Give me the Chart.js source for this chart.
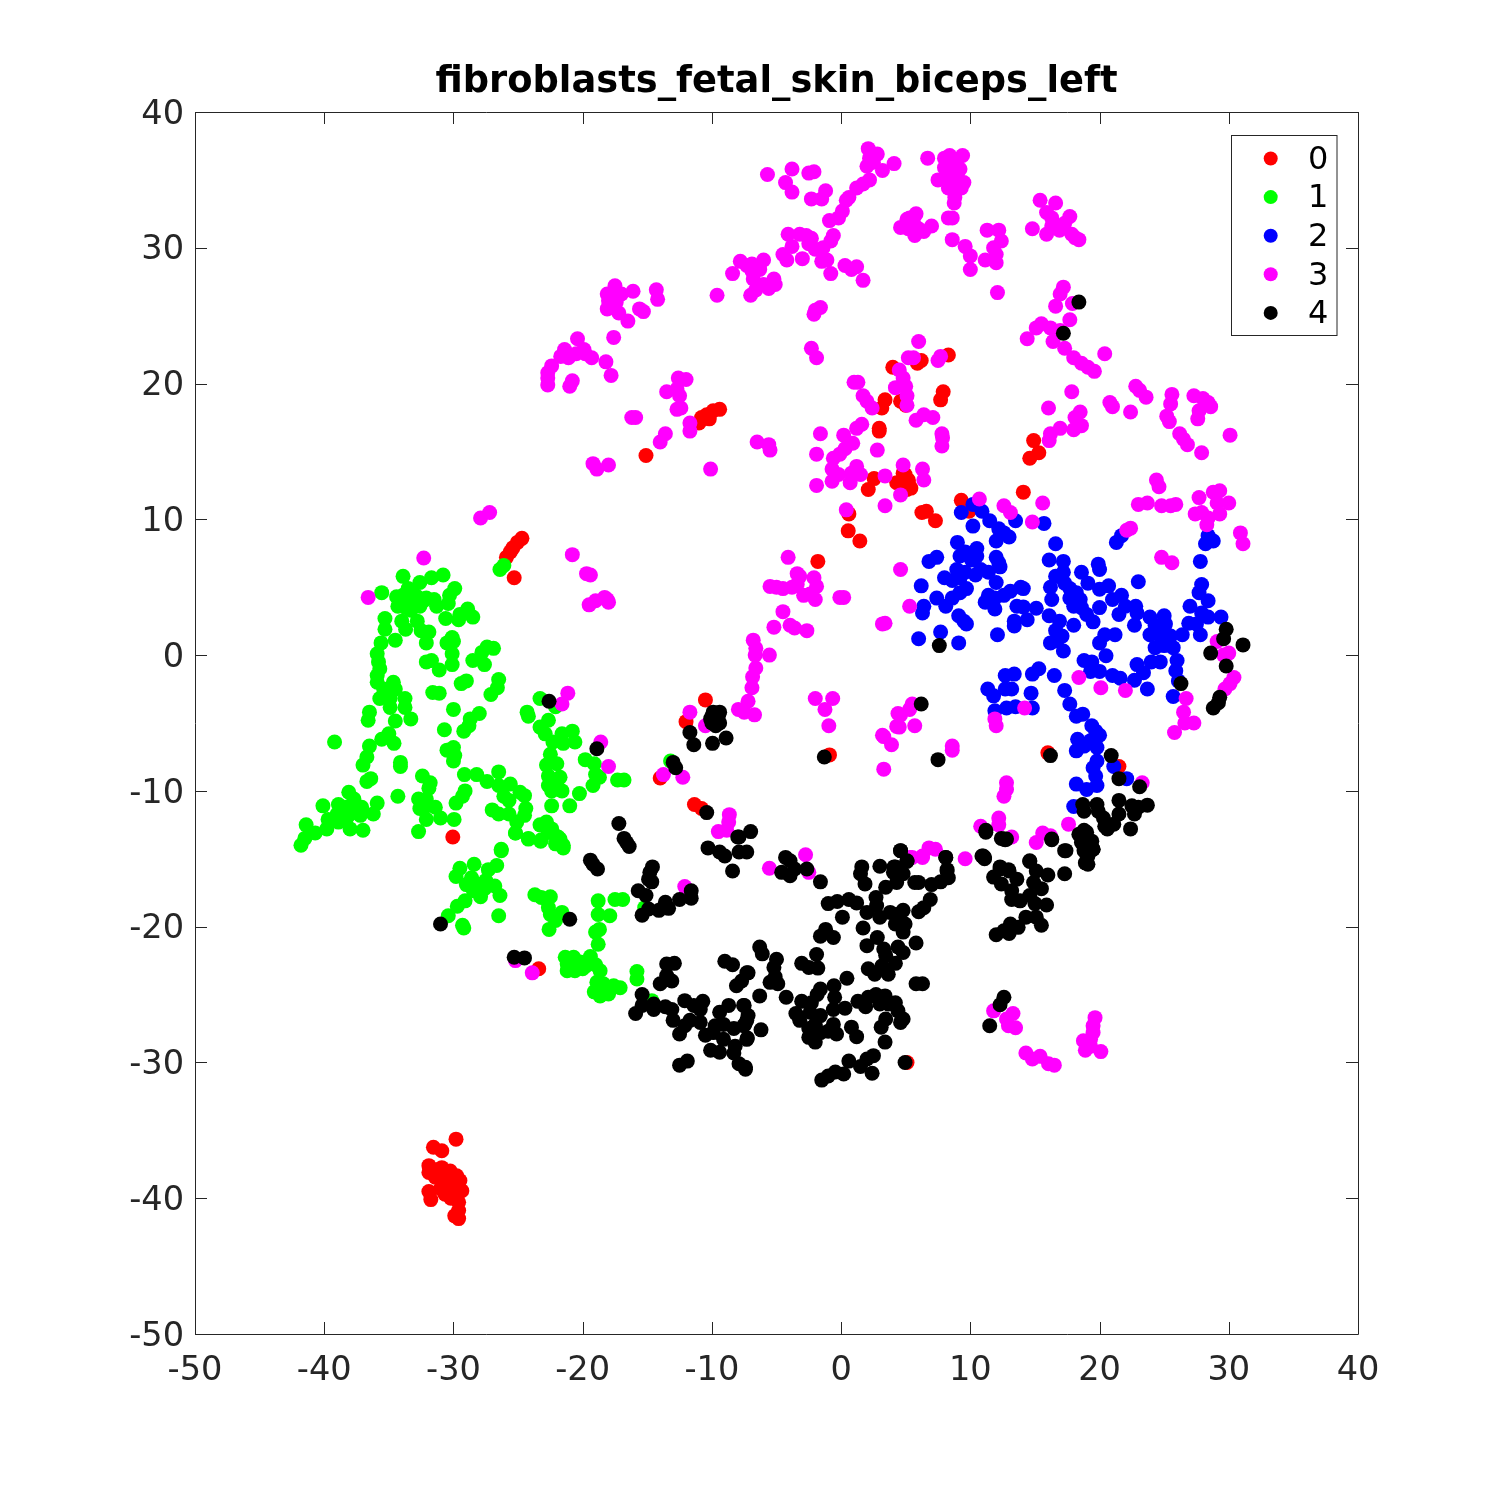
<!DOCTYPE html>
<html>
<head>
<meta charset="utf-8">
<style>body{margin:0;background:#fff}</style>
<script src="https://cdn.jsdelivr.net/npm/chart.js@4"></script>
</head>
<body>
<canvas id="grafico" width="1500" height="1500"></canvas>
<script>
const clusterNames = ['0', '1', '2', '3', '4'];
const clusterColors = ['#ff0000', '#00ff00', '#0000ff', '#ff00ff', '#000000'];
const tickValues = [-50, -40, -30, -20, -10, 0, 10, 20, 30, 40];

const cluster0 = [[-29.8,-35.65],[-31.55,-36.25],[-30.9,-36.5],[-31.9,-37.6],[-31.9,-38.1],[-30.9,-37.75],[-30.25,-38],[-29.75,-38.35],[-29.5,-38.7],[-31.4,-38.45],[-30.8,-38.6],[-30.25,-39.1],[-29.35,-39.45],[-31.9,-39.5],[-31.75,-40.1],[-30.65,-39.7],[-29.9,-39.7],[-29.6,-40.3],[-29.6,-40.9],[-29.6,-41.5],[-29.9,-41.3],[-30.5,-38.2],[-31.2,-37.9],[-30.2,-40],[-29.8,-39.2],[-31,-39.3],[-30.4,-38.6],
[-24.7,8.6],[-25.05,8.3],[-25.4,7.9],[-25.6,7.6],[-25.9,7.2],[-25.3,5.7],[-30.05,-13.4],[-15.1,14.7],[-9.4,18.1],[-9.9,18],[-10.4,17.7],[-10.8,17.5],[-10.2,17.4],[-11,17.1],
[4,21.2],[3.4,18.8],[3.15,18.2],[2.95,16.7],[2.95,16.5],[4.6,18.7],[5,18.4],[6.2,21.7],[5.9,21.5],[8.3,22.1],[7.9,19.4],[7.7,18.8],[2.1,12.2],[2.55,13],[4.3,12.7],[4.95,13.3],[5.2,12.7],[5.1,12.2],[4.8,13.4],[5.4,12.3],[5.2,12.9],
[14.9,15.8],[15.3,14.9],[14.6,14.5],[14.1,12],[9.3,11.4],[9.9,10.6],[6.6,10.6],[6.25,10.5],[7.3,9.9],[0.6,10.4],[0.55,9.15],[1.45,8.4],[-1.8,6.9],[-10.5,-3.3],[-12,-4.9],[-14,-9.05],[-11.35,-11],[-10.8,-11.3],[-0.9,-7.35],[16,-7.2],[21.5,-8.2],[-23.4,-23.1],[5.1,-30]];

const cluster1 = [[-26.4,6.3],[-26.1,6.6],[-33.9,5.8],[-30.8,5.9],[-31.7,5.7],[-32.6,5.35],[-29.9,4.9],[-35.55,4.6],[-33.5,4.9],[-33.1,4.5],[-34.1,4],[-33.6,4.1],[-33.1,4],[-33.7,3.5],[-34.3,3.6],[-32.3,4],[-31.5,4.1],[-31.3,3.6],[-30.4,3.8],[-30.3,4.4],[-32.6,3.6],[-32.1,4.2],[-33.3,3.3],[-33,3.7],[-33.9,4.4],[-34.4,4.3],[-32.8,4.3],
[-28.9,3.4],[-29.5,3],[-30.6,2.7],[-29.6,2.6],[-28.5,2.8],[-35.3,2.7],[-34,2.5],[-33.7,1.9],[-32.8,2.5],[-32.5,1.8],[-31.9,1.7],[-32.1,0.9],[-35.3,1.9],[-34.5,1.1],[-35.6,0.9],[-35.9,0.1],[-35.8,-0.5],[-35.7,-1],[-35.9,-1.5],[-35.9,-2],
[-30.1,1.3],[-30,1],[-30.5,0.9],[-30.1,0.1],[-30.1,-0.7],[-31.1,-1.1],[-31.7,-0.4],[-32.1,-0.5],[-26.9,0.5],[-27.4,0.6],[-27.8,0.2],[-28.5,-0.4],[-27.6,-0.7],[-29,-1.9],[-29.4,-2.1],[-26.5,-1.8],[-26.6,-2.4],[-27.1,-2.9],[-31.6,-2.75],[-31.1,-2.8],
[-34.65,-2],[-34.5,-2.5],[-35.4,-2.5],[-35.7,-3.2],[-34.9,-3.2],[-33.75,-3.2],[-34.9,-3.85],[-33.75,-3.85],[-36.5,-4.2],[-36.6,-4.8],[-33.3,-4.7],[-34.5,-4.85],[-30,-4],[-28,-4.3],[-28.7,-4.7],[-28.8,-5.2],[-29.2,-5.6],[-30.7,-5.5],[-39.2,-6.4],[-35,-5.8],[-35.55,-6.2],[-34.6,-6.5],[-36.5,-6.7],[-36.7,-7.5],[-37,-8.1],[-34.1,-7.9],[-34.1,-8.2],[-36.7,-9.3],[-36.4,-9.1],
[-30.5,-7],[-30,-6.8],[-29.9,-7.4],[-30,-7.8],[-29.15,-8.8],[-28.2,-8.8],[-27.4,-9.3],[-26.5,-8.6],[-26.5,-9.6],[-25.6,-9.5],[-32.4,-8.9],[-31.8,-9.4],[-31.9,-9.8],[-34.3,-10.4],[-29.1,-10],[-29.3,-10.4],[-29.8,-10.9],[-32.7,-10.6],[-32.1,-10.6],[-32.6,-11.3],[-32.1,-11.1],[-31.4,-11.2],[-32.1,-12.1],[-31,-12],[-29.95,-12.1],[-32.7,-13],
[-24.5,-10.35],[-24.85,-10.1],[-25.7,-10.7],[-26.1,-10.4],[-27,-11.4],[-26.5,-11.7],[-25.7,-11.7],[-24.4,-11.3],[-24.5,-11.8],[-25.1,-12.3],[-25.2,-13.1],[-24.2,-13.5],[-23.2,-13.6],[-23.3,-12.5],[-22.8,-12.3],[-21.9,-13.4],[-22.4,-12.8],[-21.5,-14],[-22.1,-13.9],[-26.3,-14.3],[-24.3,-4.2],[-24.2,-4.5],[-23.3,-3.2],[-22.1,-3.8],
[-22.65,-4.8],[-23.3,-5.3],[-22.9,-5.8],[-22.3,-6.4],[-21.6,-5.8],[-20.8,-5.6],[-21.5,-6.5],[-20.6,-6.4],[-22.5,-7.3],[-22,-8],[-22.8,-8.1],[-22.65,-8.9],[-21.75,-9],[-22.65,-9.6],[-21.6,-10],[-22.4,-10],[-22,-9.4],[-19.8,-7.7],[-19.1,-8],[-19,-8.8],[-18.7,-9],[-19.2,-9.6],[-20.25,-10.2],[-21,-11.1],[-22.4,-11.1],[-17.3,-9.2],[-16.8,-9.2],
[-38.1,-10.1],[-37.7,-10.6],[-40.1,-11.1],[-38.9,-11],[-38.3,-11.2],[-35.9,-10.9],[-36.2,-11.7],[-37.1,-11.2],[-37.2,-11.8],[-38.5,-11.7],[-39,-11.7],[-39.7,-12.1],[-38.9,-12.3],[-38,-12.8],[-37,-12.9],[-39.8,-12.8],[-41.4,-12.5],[-40.7,-13.1],[-41.5,-13.5],[-41.8,-14],[-38.6,-11.3],[-38.2,-11.9],[-37.6,-11.6],
[-26.3,-14.4],[-29.5,-15.7],[-28.4,-15.4],[-29.8,-16.3],[-26.65,-15.5],[-27.3,-15.8],[-28.6,-16.4],[-27.5,-16.6],[-29,-16.9],[-28.1,-17],[-26.8,-17],[-28.45,-17.35],[-27.9,-17.8],[-26.4,-17.7],[-29.1,-18.1],[-29.7,-18.5],[-30.4,-19.2],[-26.5,-19.2],[-29.3,-19.9],[-29.2,-20.1],[-28.3,-16.8],[-28.7,-17],[-27.6,-17.2],
[-23.7,-17.65],[-23.2,-17.85],[-22.5,-17.8],[-22.65,-18.6],[-22.5,-19.1],[-21.6,-18.95],[-22.1,-19.55],[-22.6,-20.2],[-18.8,-18.1],[-18.8,-19.1],[-17.9,-19.2],[-17.5,-18],[-16.9,-18],[-18.7,-20.2],[-19,-20.4],[-18.8,-21.3],
[-21.35,-22.25],[-20.7,-22.25],[-21.2,-22.75],[-21.2,-23.25],[-20.45,-22.75],[-19.4,-22.2],[-19.7,-22.85],[-19,-22.8],[-18.65,-23.25],[-20.6,-23.25],[-18.9,-24.1],[-18.4,-24.2],[-17.6,-24.35],[-17.1,-24.5],[-19.1,-24.8],[-18.65,-25.1],[-18,-24.95],[-15.8,-23.3],[-15.8,-23.85],[-14.65,-25.45],[-15.2,-18.6],[-13.2,-7.8],[-20.2,-22.6],[-20,-23.1],[-18.5,-24.6],[-17.9,-24.7],
[-25.2,-13.1],[-24.2,-13.55],[-23.25,-13.7],[-22.1,-13.3],[-21.75,-13.55],[-21.5,-14.2],[-22.65,-13.05]];

const cluster2 = [[9.3,10.5],[10.2,11.1],[10.9,10.6],[11.5,9.9],[10.2,9.5],[12.2,9.3],[12.6,9],[13,8.7],[12,8.4],[13.5,9.9],[15.7,9.7],[9,8.3],[9.2,7.3],[9.6,7.6],[10.5,7.85],[10.5,7.3],[10.1,7],[7.4,7.2],[6.8,6.9],[12,7.2],[12.3,6.5],[12.2,6.8],
[8.95,6.3],[8,5.7],[8.6,5.5],[9.2,5.7],[9.6,6.1],[10.4,5.9],[10.8,6.3],[11.4,6.1],[12,5.35],[6.2,5.1],[9.7,4.9],[9.2,4.6],[8.6,4.2],[7.4,4.2],[8.1,3.6],[6.4,3.6],[6.3,3.1],[9.1,2.9],[9.7,2.3],[9.5,2.5],[7.7,1.7],[6,1.2],[9.1,0.9],[12.1,1.5],
[11.4,4.4],[11.15,3.9],[11.9,3.4],[11.9,4.2],[12.6,4.4],[13.1,4.7],[13.9,5],[14.1,4.9],[13.6,3.6],[14.1,3.55],[15.1,3.45],[13.4,2.5],[13.4,2.15],[14.4,2.6],[16.6,8.2],[16.1,7],[17.2,6.9],[19.9,6.7],[20,6.3],[23,5.4],[18.6,6.1],[16.6,5.8],[17.2,6.1],[19.1,5.3],[16.2,5],[16.3,4.1],
[17.3,5.3],[17.7,4.9],[18.2,4.6],[17.7,4.2],[18.5,4.1],[18,3.6],[18.6,3.5],[19,3],[19.5,2.45],[20,4.85],[20.7,5.1],[21,4.1],[21.7,4.4],[20,3.5],[22,3.6],[22.8,3.6],[21.5,3],[22.9,3.1],[22.7,2.2],[16.1,2.9],[16.9,2.5],[18,2.2],[16.6,1.8],[17.1,1.4],[16.2,0.9],[16.7,1.05],[17.2,0.3],[21.2,1.5],[20.4,1.5],[20,0.9],[20.5,-0.05],
[18.8,-0.4],[19.4,-0.5],[19.3,-1.2],[20,-1.2],[21,-1.5],[21.6,-1.7],[22.7,-1.85],[23.4,-1.3],[22.9,-0.7],[23.7,-2.5],[24,-0.5],[24.7,-0.5],[23.9,2.8],[25,2.9],[24.3,2.2],[25.1,2.3],[23.9,1.5],[24.7,1.4],[25.5,1.4],[26.4,1.5],[24.3,0.55],[25,0.7],[25.7,0.55],[26,-0.4],[25.9,-1.15],[26.1,-1.9],[25.7,-3.05],[25,2],[24.6,2],[25.2,1],[24.8,0.9],
[27,3.6],[27.9,3.1],[28.4,2.8],[26.9,2.35],[27.5,2.3],[27.8,1.5],[28.4,4],[27.9,5.2],[27.7,4.6],[27.8,6.9],[28.2,8.2],[28.4,8.8],[28.8,8.4],[29.4,2.8],[21.3,8.3],[21.7,8.8],
[15.3,-1],[14.8,-1.4],[16.5,-1.5],[12.7,-1.5],[13.4,-1.4],[12.7,-2.5],[13.2,-2.5],[11.35,-2.5],[11.8,-3],[14.7,-2.8],[11.9,-4.1],[12.8,-3.9],[13.5,-3.8],[14.8,-3.9],[17.3,-2.6],[17.7,-3.6],[18.2,-4.5],[18.7,-4.35],[19.4,-5.2],[19.7,-5.6],[20,-5.9],[18.3,-6.2],[19.3,-6.3],[19.8,-6.8],[18.8,-6.7],[18.2,-7.05],[19.8,-7.8],[19.5,-8.3],[19.7,-8.9],[19.8,-9.6],[19,-9.9],[18.2,-9.5],[21.1,-8.2],[22.1,-9.1],[18,-11.15]];

const cluster3 = [[2.1,37.3],[2.8,36.9],[2.2,36.6],[2.5,36.3],[2,36],[3.2,35.7],[4.1,36.2],[-5.7,35.4],[-3.8,35.8],[-4.3,34.8],[-3.8,34.1],[-2.5,35.5],[-2.1,35.6],[-2.3,33.6],[-1.5,33.6],[-1.2,34.2],[2.2,35],[1.7,34.7],[1.2,34.4],[0.6,33.7],[0.4,33.5],[0.1,32.7],[-0.2,32.2],[-0.9,32],[-0.6,30.9],[-0.8,30.5],
[-4.1,31],[-3.2,31],[-2.3,30.7],[-2.7,30.9],[-3.8,30.1],[-4.5,29.5],[-4.2,29.1],[-3,29.2],[-2.5,30.3],[-2,29.9],[-1.4,30],[-1.5,29],[-1.1,29.1],[-0.8,28.1],[0.3,28.7],[0.8,28.4],[1.2,28.6],[1.7,27.6],
[-7.8,29],[-8.4,28.1],[-7.3,28.7],[-6.9,28.8],[-6,29.1],[-6.3,28.4],[-6.9,28.3],[-6.8,27.7],[-6,27.3],[-5.2,27.7],[-5.1,27.3],[-5.6,27],[-6.6,26.9],[-7,26.5],[-9.6,26.5],[-2.1,25.1],[-2,25.4],[-1.6,25.6],[-2.3,22.6],[-1.9,21.9],
[-17.5,27.2],[-18.1,26.6],[-17.5,26.6],[-17,26.6],[-16.1,26.8],[-18,26.1],[-17.4,26],[-18.1,25.5],[-17.2,25.2],[-16.5,24.6],[-15.6,25.5],[-15.3,25.3],[-14.3,26.9],[-14.2,26.2],[-17.6,23.4],[-20.4,23.3],[-21.4,22.5],[-21.7,22],[-21.1,21.9],[-20.5,22.2],[-19.9,22.5],[-19.8,22.2],[-19.3,21.9],[-18.2,21.6],[-17.8,20.6],[-22.4,21.3],[-22.7,20.8],[-22.7,20.4],[-22.7,19.9],[-20.8,20.2],[-21,19.8],
[-12.6,20.4],[-12,20.3],[-13.5,19.4],[-12.7,19.6],[-12.5,19.1],[-12.7,18.1],[-12.4,18.2],[-16.2,17.5],[-15.9,17.5],[-11.7,17.1],[-11.7,16.5],[-13.6,16.3],[-14,15.7],[-6.5,15.7],[-5.6,15.5],[-5.5,15.1],[-19.2,14.1],[-18.9,13.7],[-18,14],[-10.1,13.7],
[-1.9,14.8],[-1.6,16.3],[0.2,16.2],[1.2,16.7],[1.6,17],[0.9,15.6],[0.3,15.2],[-0.6,14.5],[-0.1,14.8],[-0.7,13.7],[-0.2,13.3],[-0.7,12.8],[-1.9,12.5],[0.7,12.7],[1.2,13.9],[1.5,13.3],[0.8,13.4],[2.8,15.1],[3.4,13.2],[4.8,14],[4.6,11.8],[3.4,11],[0.4,10.7],[1,20.1],[1.3,20.1],[1.7,19.1],[2,18.7],[2.4,18.2],
[4.5,21],[4.8,20.4],[5.2,21.9],[4.2,19.7],[5,19.8],[5.1,19.1],[5.1,18.4],[4.6,31.5],[5.1,32.1],[6.7,36.6],[8,36.6],[8.4,36.8],[9.4,36.8],[9,36.5],[8,35.9],[9.2,35.8],[8.6,35.7],[7.5,35],[8.2,35],[9.5,34.8],[8.7,34.8],[8.3,34.4],[9.3,34.4],[8.8,34.1],[8.8,33.7],[8.75,33.3],[8.6,32.2],[8.3,32.2],[8.6,30.6],[9.6,30.1],[10,29.4],[10,28.4],[8.8,35.3],[8.5,35.2],[9,35.2],[8.3,35.5],[8.9,36],
[11.3,31.3],[12.2,31.3],[12.4,30.5],[11.8,30],[12,29.5],[11.15,29.1],[12,28.9],[12.1,26.7],[5.8,32.5],[5.3,32.2],[5.2,31.4],[5.7,30.9],[6,31.4],[6.4,31.2],[7,31.6],[5.6,31.9],
[15.4,33.5],[16.6,33.3],[15.9,32.6],[16.3,32.2],[17.7,32.3],[17.3,31.8],[16.3,31.6],[16.9,31.3],[14.8,31.4],[15.9,31],[17.85,31],[18.1,30.75],[18.4,30.6],[17.2,27.1],[16.95,26.6],[16.6,25.7],[17.9,25.9],[17.7,24.7],[15.5,24.4],[15.1,24.1],[14.4,23.3],[16.2,24.1],[16.95,23.9],[16.4,23.1],[17.3,22.6],[18,21.9],[18.6,21.5],[19.1,21.2],[19.6,20.9],[20.4,22.2],
[17.85,19.4],[16.05,18.2],[18.5,17.9],[18.1,17.5],[18.6,16.9],[18,16.6],[16.95,16.7],[16.2,16.3],[16.1,15.8],[22.8,19.8],[23.1,19.5],[23.6,19],[20.8,18.6],[21,18.3],[22.4,17.9],[25.6,19.2],[25.5,18.5],[25.2,17.6],[25.4,17.2],[26.2,16.3],[26.5,15.9],[26.8,15.5],[27.9,14.9],[27.3,19.1],[28,18.9],[28.6,18.3],[28.4,18.6],[27.7,18],[27.6,17.4],[30.1,16.2],[24.4,12.9],[24.6,12.4],
[6,23.1],[5.6,21.9],[7.5,21.7],[7.7,22],[5.8,17.3],[6.4,17.7],[7.1,17.5],[7.8,16.3],[7.85,16],[7.8,15.4],[6.3,13.7],[6.4,12.9],[10.7,11.5],[12.6,11],[13.1,10.5],[15.6,11.2],[14.8,9.8],[23,11.1],[23.7,11.2],[24.8,11],[25.5,11],[25.9,11.1],[27.7,11.6],[27.4,10.4],[27.9,10.5],[28.4,10.1],[28.3,9.6],[29.3,10.4],[29.1,11.2],[30,11.2],[28.8,12],[29.3,12.1],[22.4,9.35],[22.1,9.2],[24.8,7.2],[25.6,6.8],[30.9,9],[31.1,8.2],
[4.6,6.3],[5.3,3.6],[3.4,2.35],[3.2,2.3],[18.4,-1.65],[20.1,-2.4],[22,-2.6],[14.2,-3.9],[11.9,-4.7],[12,-5.2],[5.5,-3.6],[4.6,-4.4],[4.5,-5.3],[5.7,-5.2],[5.3,-4],[3.3,-6],[3.9,-6.6],[3.3,-8.4],[8.6,-6.7],[8.6,-7],[12.8,-9.4],[12.6,-10.4],[12.8,-9.9],[12.2,-12],[12.2,-12.5],[10.8,-12.6],[13.2,-13.4],[15.6,-13.1],[15.1,-13.8],[16.2,-13.3],[17.6,-12.45],[23.3,-9.4],
[26.7,-3.2],[26.5,-4.2],[26.6,-5],[27.3,-5],[25.8,-5.7],[29.1,1],[30,0.15],[29.6,0],[30.4,-1.65],[30.1,-2.1],[29.7,-2.5],[6.8,-14.2],[7.3,-14.3],[6.3,-14.8],[5.3,-14.9],[9.6,-15],[5.5,-14.9],[6.3,-14.9],
[-27.9,10.1],[-27.2,10.5],[-32.3,7.15],[-36.6,4.25],[-20.8,7.4],[-19.7,6],[-19.4,5.9],[-19.5,3.7],[-19,4],[-18.3,4.25],[-18,3.9],[-18.1,4.1],[-21.15,-2.8],[-21.6,-3.6],[-18.6,-6.4],[-18,-8.2],
[-4.1,7.2],[-3.4,6],[-3.2,5.8],[-2.1,5.7],[-5.5,5.06],[-5,5],[-4.5,4.9],[-3.8,5],[-3.4,5.2],[-1.9,5.06],[-2.9,4.4],[-2,4.1],[-2.4,4.5],[-0.1,4.25],[0.2,4.25],[-4.5,3.2],[-5.2,2.06],[-3.95,2.2],[-3.6,2],[-2.65,1.8],[-6.8,1.1],[-6.6,0.5],[-6.65,0],[-5.55,0],[-6.6,-0.95],[-6.85,-1.6],[-6.9,-2.4],[-7.2,-3.4],[-7.95,-4],[-7.5,-4.2],[-6.7,-4.4],[-2,-3.2],[-0.65,-3.2],[-1.25,-4],[-0.95,-5.2],[4.4,-4.3],[4.3,-5.25],[3.2,-5.9],
[-11.7,-4.2],[-13.75,-8.8],[-12.25,-9],[-8.65,-11.75],[-8.7,-12.3],[-9.5,-13],[-8.85,-12.9],[-10.5,-5.2],[-23.9,-23.4],[-25.2,-22.5],[-12.1,-17.05],[-5.55,-15.7],[-2.75,-14.7],[-2.5,-16],
[11.8,-26.2],[12.8,-26.8],[13.3,-26.4],[12.95,-27.3],[13.5,-27.45],[14.3,-29.3],[14.8,-29.75],[15.4,-29.55],[16.05,-30.1],[16.5,-30.2],[19.65,-26.7],[19.5,-27.3],[19.5,-27.8],[18.75,-28.4],[19.3,-28.3],[18.9,-29.1],[19.3,-28.8],[20.1,-29.2]];

const cluster4 = [[18.4,26],[17.2,23.7],[7.6,0.7],[29.8,1.9],[29.6,1.2],[31.1,0.75],[28.6,0.15],[29.8,-0.8],[26.3,-2.1],[29.3,-3.1],[29.2,-3.5],[28.8,-3.9],[6.2,-3.6],[16.2,-7.4],[7.5,-7.7],[20.9,-7.4],[21.5,-9.1],[23.1,-9.7],
[21.5,-10.7],[18.7,-11],[18.8,-11.5],[19.8,-11],[19.9,-11.5],[20.3,-12],[21.5,-11.7],[21.1,-12.45],[20.4,-12.6],[22.5,-11.1],[23,-11.2],[23.7,-11.05],[22.7,-11.7],[22.4,-12.8],[18.8,-12.9],[18.4,-13.2],[19.1,-13.6],[18.6,-13.8],[19.5,-14.3],[18.8,-14.4],[19,-15.3],[19.1,-14.8],[17.4,-14.4],[16.3,-13.6],[14.6,-15.2],[11.2,-12.9],[12.4,-13.5],[12.7,-13.6],[11,-14.8],[11.1,-15],[8.1,-14.9],[4.6,-14.4],[5.1,-15.2],[4.1,-15.6],[8.2,-15.8],[12.3,-15.6],[12.95,-15.8],
[-10,-4.5],[-9.5,-4.5],[-10,-5],[-9.4,-5],[-9.7,-4.7],[-10.1,-4.7],[-9.7,-5.2],[-9.4,-4.2],[-9.9,-4.2],[-11.7,-5.7],[-11.4,-6.6],[-9.95,-6.5],[-8.9,-6.1],[-1.3,-7.5],[-13,-7.9],[-12.8,-8.3],[-10.4,-11.6],[-7,-13],[-8,-13.4],
[-22.6,-3.4],[-18.9,-6.9],[-17.2,-12.4],[-16.8,-13.5],[-16.6,-13.8],[-16.4,-14.1],[-31,-19.8],[-21,-19.45],[-25.3,-22.25],[-24.5,-22.3],[-19.4,-15.1],[-18.85,-15.75],[-19.2,-15.4],
[-14.6,-15.6],[-14.8,-16],[-14.9,-16.5],[-14.65,-16.7],[-15.7,-17.35],[-15.1,-17.7],[-11.6,-17.35],[-11.6,-17.9],[-12.5,-18],[-13.6,-18.2],[-13.35,-18.65],[-14.1,-18.8],[-14.9,-18.7],[-15.4,-19.15],[-10.3,-14.2],[-9.4,-14.5],[-9,-14.8],[-7.9,-13.4],[-7.9,-14.5],[-7.3,-14.5],[-8.4,-15.9],
[-13.5,-22.75],[-12.9,-22.7],[-13.1,-24],[-13.5,-23.6],[-14,-24.2],[-9,-22.55],[-8.4,-22.8],[-7.3,-23.4],[-8.1,-24.35],[-15.4,-25],[-15.4,-25.8],[-14.5,-25.7],[-14.5,-26.1],[-15.9,-26.4],[-13.6,-25.9],[-13.1,-26.1],[-13,-26.9],[-12.1,-25.45],[-11.4,-25.8],[-10.7,-25.5],[-10.9,-26.1],[-11.7,-26.9],[-10.9,-27.05],[-12.1,-27.3],[-12.5,-27.9],
[-8.7,-25.8],[-9.4,-26.3],[-9.75,-27.3],[-9.1,-27.2],[-8.3,-27.5],[-10.5,-28],[-9.9,-27.8],[-9.1,-28.3],[-10.1,-29.1],[-9.4,-29.25],[-8.2,-28.8],[-8.3,-29.3],[-7.5,-25.8],[-7.3,-26.9],[-7.55,-27.3],[-7.3,-28.3],[-12.5,-30.2],[-11.9,-29.9],[-7.9,-30.1],[-7.4,-30.5],
[-4.3,-14.9],[-3.95,-15.15],[-4.6,-16],[-3.95,-16.25],[-3.6,-15.75],[-2.65,-15.75],[-1.6,-16.7],[4.6,-14.4],[5.1,-15.15],[8.1,-14.9],[8.2,-15.9],[8.3,-16.4],[7.7,-16.7],[7,-16.9],[5.7,-16.75],[6,-16.75],[3.45,-17.1],[4.3,-16.75],[4.05,-16],[4.8,-16.1],[4.2,-15.6],[3,-15.55],[1.6,-15.6],[1.5,-16.1],[1.85,-16.85],
[6.9,-18],[6.4,-18.6],[6,-18.9],[2.7,-17.85],[2.75,-18.45],[-1,-18.3],[-0.3,-18.15],[0.6,-18],[1.2,-18.25],[2,-18.95],[3,-19.3],[3.8,-18.95],[4.8,-18.8],[4.3,-19.1],[4.2,-19.8],[4.95,-19.8],[4.8,-20.4],[0.1,-19.3],[-1.2,-20.2],[-1.6,-20.7],[-0.6,-20.8],[1.7,-20.1],[2.8,-20.8],[2,-21.4],[3.3,-21.65],[3.45,-22.1],[4.4,-21.5],[4.8,-21.9],[5.8,-21.2],[4.2,-22.7],
[-1.9,-22.05],[-3.05,-22.7],[-2.5,-23],[-1.8,-23.05],[-6.3,-21.5],[-6.1,-22],[-5,-22.4],[-5.2,-23],[-5.1,-23.7],[-5.5,-24.1],[-4.9,-24.2],[-7.2,-23.4],[-7.7,-24],[0.45,-23.8],[2.1,-23.1],[2.6,-23.5],[3.15,-22.9],[3.65,-23.5],[5.8,-24.2],[6.3,-24.2],[-6.3,-25.1],[-4.25,-25.2],[-3.05,-25.5],[-1.6,-24.6],[-1.85,-25],[-0.55,-24.35],[-0.5,-25.2],[-0.6,-26.1],[0.3,-26],
[-7.55,-25.8],[-7.2,-26.55],[-7.45,-27.2],[-6.2,-27.6],[-7.25,-28.2],[-7.4,-30.35],[1.3,-25.5],[1.9,-25.9],[2.1,-25.2],[2.7,-25],[3.4,-25.1],[3,-25.7],[3.65,-25.7],[4.2,-25.6],[4.4,-26.2],[4.8,-26.8],[4.6,-27.05],[3.45,-26.8],[3.1,-27.4],[3.4,-28.5],
[-3.5,-26.4],[-3.2,-26.9],[-2.3,-25.6],[-2.4,-26.3],[-1.6,-26.55],[-2.5,-27.5],[-2,-27.2],[-2.5,-28.15],[-2,-28.5],[-1.6,-27.8],[-1,-27.7],[-0.6,-27.2],[-0.35,-27.9],[0.8,-27.4],[1.2,-28.1],[0.6,-29.9],[2.5,-29.5],[2,-29.75],[1.5,-30.3],[2.4,-30.8],[0.2,-30.85],[-0.45,-30.7],[-1,-31],[-1.5,-31.3],[4.95,-30],
[12.6,-25.2],[12.3,-25.75],[11.5,-27.3],[11.1,-14.9],[10.9,-14.8],[11.2,-13.05],[12.6,-13.55],[12.8,-13.55],[16.3,-13.55],[17.3,-14.4],[17.3,-16.1],[14.6,-15.15],[12.3,-15.75],[13,-15.9],[11.8,-16.35],[12.4,-16.85],[13.6,-16.5],[13.2,-17.35],[13.2,-18],[13.85,-18.1],[15.1,-15.9],[16,-16.2],[14.9,-16.75],[15.5,-17.2],[14.6,-17.7],[15,-18.3],[15.9,-18.4],[14.3,-19.3],[15.1,-19.3],[15.5,-19.9],[13.7,-20.05],[13.1,-19.8],[12.6,-20.3],[13,-20.5],[12,-20.6],
[19,-13.05],[19.4,-13.7],[19.5,-14.3],[19,-14.65],[18.9,-15.3],[19.1,-15.4],[20.6,-12.8],[18.6,-13.3]];

const allClusters = [cluster0, cluster1, cluster2, cluster3, cluster4];

const corPreta = '#262626';

// caixa completa, ticks para dentro e legenda dentro do grafico
const molduraPlugin = {
    id: 'moldura',
    afterDatasetsDraw(chart) {
        const c = chart.ctx, a = chart.chartArea;
        const sx = chart.scales.x, sy = chart.scales.y;
        c.save();
        c.strokeStyle = corPreta;
        c.lineWidth = 1;
        c.beginPath();
        c.rect(a.left + 0.5, a.top + 0.5, a.right - a.left, a.bottom - a.top);
        tickValues.forEach(v => {
            const px = Math.round(sx.getPixelForValue(v)) + 0.5;
            const py = Math.round(sy.getPixelForValue(v)) + 0.5;
            c.moveTo(px, a.bottom); c.lineTo(px, a.bottom - 12);
            c.moveTo(px, a.top); c.lineTo(px, a.top + 12);
            c.moveTo(a.left, py); c.lineTo(a.left + 12, py);
            c.moveTo(a.right, py); c.lineTo(a.right - 12, py);
        });
        c.stroke();

        // legenda
        c.fillStyle = '#fff';
        c.fillRect(1231.5, 135.5, 105.5, 200);
        c.strokeRect(1231.5, 135.5, 105.5, 200);
        c.font = '32px "DejaVu Sans"';
        c.textBaseline = 'middle';
        clusterNames.forEach((nome, i) => {
            const y = 158.5 + i * 38.6;
            c.fillStyle = clusterColors[i];
            c.beginPath();
            c.arc(1270.7, y, 7, 0, Math.PI * 2);
            c.fill();
            c.fillStyle = '#000';
            c.fillText(nome, 1308, y + 2);
        });
        c.restore();
    }
};

new Chart(document.getElementById('grafico').getContext('2d'), {
    type: 'scatter',
    data: {
        datasets: allClusters.map((pts, i) => ({
            label: clusterNames[i],
            data: pts.map(p => ({ x: p[0], y: p[1] })),
            backgroundColor: clusterColors[i],
            borderWidth: 0,
            pointRadius: 7.5,
            order: 5 - i
        }))
    },
    options: {
        responsive: false,
        animation: false,
        layout: { padding: { left: 0, right: 142, top: 0, bottom: 0 } },
        plugins: {
            legend: { display: false },
            tooltip: { enabled: false },
            title: {
                display: true,
                text: 'fibroblasts_fetal_skin_biceps_left',
                color: '#000',
                fullSize: false,
                font: { family: 'DejaVu Sans', size: 36.8, weight: 'bold', lineHeight: 1 },
                padding: { top: 64, bottom: 11.2 }
            }
        },
        scales: {
            x: {
                type: 'linear', min: -50, max: 40,
                afterBuildTicks: s => { s.ticks = tickValues.map(v => ({ value: v })); },
                afterFit: s => { s.height = 166; },
                grid: { display: false },
                border: { display: false },
                ticks: { color: corPreta, font: { family: 'DejaVu Sans', size: 33.6 }, padding: 9, maxRotation: 0, autoSkip: false }
            },
            y: {
                type: 'linear', min: -50, max: 40,
                afterBuildTicks: s => { s.ticks = tickValues.map(v => ({ value: v })); },
                afterFit: s => { s.width = 195; },
                grid: { display: false },
                border: { display: false },
                ticks: { color: corPreta, font: { family: 'DejaVu Sans', size: 33.6 }, padding: 3, labelOffset: 3, autoSkip: false }
            }
        }
    },
    plugins: [molduraPlugin]
});
</script>
</body>
</html>
